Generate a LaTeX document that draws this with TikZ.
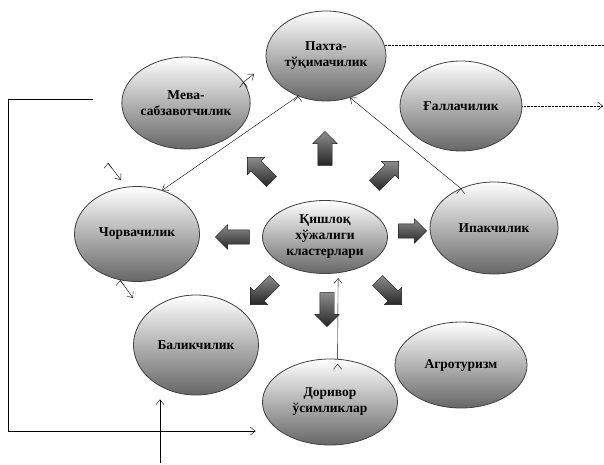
\documentclass[tikz,border=0pt]{standalone}
\usepackage{fontspec}
\setmainfont{Liberation Serif}
\usetikzlibrary{arrows.meta,calc,positioning,shapes.geometric,shapes.arrows}
\tikzset{>={Straight Barb[length=5pt,width=8pt]},
	ball/.style={% shaded ellipses with the branch names
		ellipse,
		draw=black!75,
		thick,
		top color=white,
		bottom color=black!60,
		inner sep=0pt,
		align=center,
		font=\fontsize{13.5}{16}\selectfont\bfseries
	},
	fat/.style={% thick arrows round the centre
		single arrow,
		draw=black!90,
		top color=black!45,
		bottom color=black!85,
		minimum height=34pt,
		inner xsep=0pt,
		inner ysep=7pt,
		single arrow head extend=5pt
	}
}
\begin{document}
\begin{tikzpicture}[x=1pt,y=-1pt]
			\useasboundingbox (0,0) rectangle (604,465);
			\node [ball, minimum width=120pt, minimum height=90pt] (v0) at (326,56) {Пахта-\\тўқимачилик};
			\node [ball, minimum width=125pt, minimum height=92pt] (v1) at (186,103) {Мева-\\сабзавотчилик};
			\node [ball, minimum width=125pt, minimum height=73pt] (v2) at (325,237) {Қишлоқ\\хўжалиги\\кластерлари};
			\node [ball, minimum width=122pt, minimum height=90pt] (v3) at (461,106) {Ғаллачилик};
			\node [ball, minimum width=125pt, minimum height=95pt] (v4) at (137,234) {Чорвачилик};
			\node [ball, minimum width=128pt, minimum height=92pt] (v5) at (494,228) {Ипакчилик};
			\node [ball, minimum width=125pt, minimum height=100pt] (v6) at (196,345) {Баликчилик};
			\node [ball, minimum width=135pt, minimum height=86pt] (v7) at (330,402) {Доривор\\ўсимликлар};
			\node [ball, minimum width=132pt, minimum height=86pt] (v8) at (461,365) {Агротуризм};
			% thick arrows
			\node [fat, rotate=90] (a1) at (325,152) {};
			\node [fat, rotate=135] (a2) at (262,172) {};
			\node [fat, rotate=45] (a3) at (384,176) {};
			\node [fat, rotate=180] (a4) at (236,237) {};
			\node [fat, minimum height=28pt] (a5) at (409,231) {};
			\node [fat, rotate=225] (a6) at (265,290) {};
			\node [fat, rotate=270] (a7) at (327,306) {};
			\node [fat, rotate=-45] (a8) at (387,290) {};
			% free ends
			\coordinate (c1) at (254,74);
			\coordinate (c2) at (604,0);
			\coordinate (c3) at (93,99);
			\coordinate (c4) at (8,99);
			\coordinate (c6) at (108,163);
			\coordinate (c7) at (121,180);
			\coordinate (c8) at (133,298);
			\coordinate (c9) at (160,463);
			\coordinate (c10) at (603,0);
			% thin lines
			\draw [->] (v1.20) edge (c1);
			\draw [->] (v0.235) edge (v4.60);
			\draw [->] (v5.130) edge (v0.300);
			\draw [->, shorten >=5pt] (v7.80) edge (v2.-70);
			\draw [densely dotted] (v0.10) -- (c2 |- v0.10);
			\draw [->, densely dotted] (v3.east) -- (c10 |- v3.east);
			\draw [->, shorten >=24pt] (c3) -- (c4) |- (v7.210);
			\draw [->] (c6) edge (c7);
			\draw [->] (v4.250) edge (c8);
			\draw [->, shorten >=4pt] (c9) -- (c9 |- v6.south);
		\end{tikzpicture}
\end{document}
